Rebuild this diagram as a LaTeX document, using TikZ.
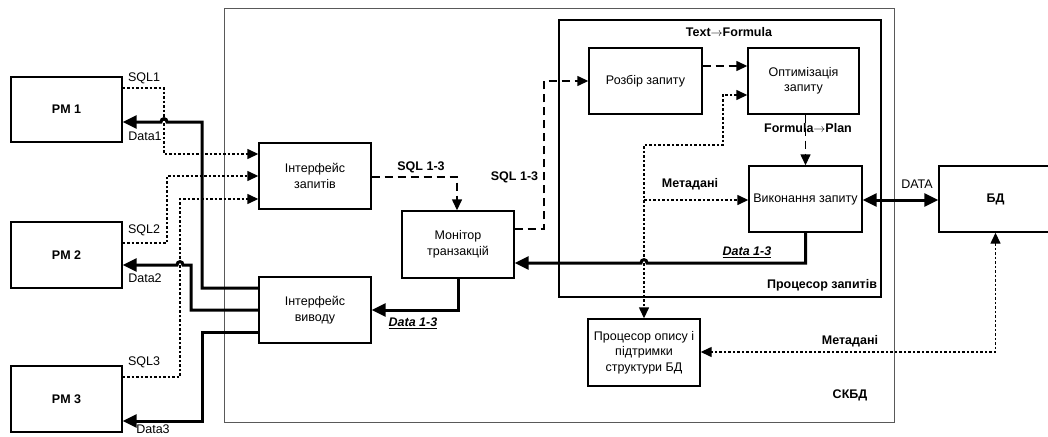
\documentclass[tikz,border=0pt]{standalone}
\usepackage{fontspec}
\setmainfont{Liberation Sans}
\usetikzlibrary{arrows.meta}
\newcommand{\longto}{\ensuremath{\rightarrow}}
\begin{document}
\begin{tikzpicture}[x=1pt,y=-1pt,
  txt/.style={font=\fontsize{12.5}{15.5}\selectfont, align=center, inner sep=0pt},
  btxt/.style={font=\fontsize{12.5}{15.5}\selectfont\bfseries, align=center, inner sep=0pt},
  box/.style={draw, line width=1.4pt, txt, minimum width=#1},
  box/.default=112pt,
  dotl/.style={line width=1.4pt, dash pattern=on 2.5pt off 2pt},
  dashl/.style={line width=1.4pt, dash pattern=on 8pt off 5pt},
  thickl/.style={line width=3pt},
  sm/.tip={Triangle[length=11pt,width=10pt]},
  bg/.tip={Triangle[length=14pt,width=13pt]}]

\useasboundingbox (0,0) rectangle (1048,436);

% frames
\node[draw=black!65, line width=0.9pt, minimum width=670pt, minimum height=414pt, inner sep=0pt] (skbd) at (559,215) {};
\node[draw, line width=1.4pt, minimum width=322pt, minimum height=277pt, inner sep=0pt] (pq) at (720,158.5) {};

% workstations
\node[box=111pt, btxt, minimum height=65pt] (pm1) at (66.5,109.5) {PM 1};
\node[box=111pt, btxt, minimum height=66pt] (pm2) at (66.5,255) {PM 2};
\node[box=111pt, btxt, minimum height=66pt] (pm3) at (66.5,399) {PM 3};

% DBMS components
\node[box, minimum height=66pt] (iz) at (315,176) {Інтерфейс\\запитів};
\node[box, minimum height=66pt] (iv) at (315,310) {Інтерфейс\\виводу};
\node[box, minimum height=67pt] (mt) at (458,244.5) {Монітор\\транзакцій};
\node[box=113pt, minimum height=66pt] (rz) at (645.5,81) {Розбір запиту};
\node[box=111pt, minimum height=66pt] (op) at (803.5,81) {Оптимізація\\запиту};
\node[box=113pt, minimum height=66pt] (vz) at (805.5,199) {Виконання запиту};
\node[box, minimum height=67pt] (po) at (644,352.5) {Процесор опису і\\підтримки\\структури БД};
\node[box=113pt, btxt, minimum height=66pt] (bd) at (995.5,199) {БД};

% requests from workstations
\draw[dotl,-sm] (pm1.east|-0,88) -- (164,88) -- (164,154) -- (iz.west|-0,154);
\draw[dotl,-sm] (pm2.east|-0,243) -- (167,243) -- (167,176) -- (iz.west|-0,176);
\draw[dotl,-sm] (pm3.east|-0,377) -- (180,377) -- (180,199) -- (iz.west|-0,199);

% results to workstations
\draw[thickl,-bg] (iv.west|-0,288) -- (202,288) -- (202,122) -- (167,122)
  .. controls (167,117.5) and (161,117.5) .. (161,122) -- (pm1.east|-0,122);
\draw[thickl,-bg] (iv.west|-0,310) -- (191,310) -- (191,265) -- (183,265)
  .. controls (183,260.5) and (177,260.5) .. (177,265) -- (pm2.east|-0,265);
\draw[thickl,-bg] (iv.west|-0,332) -- (202,332) -- (202,421) -- (pm3.east|-0,421);

% query path
\draw[dashl,-sm] (iz.east|-0,177) -- (457,177) -- (mt.north-|457,0);
\draw[dashl,-sm] (mt.east|-0,229) -- (544,229) -- (544,81) -- (rz.west);
\draw[dashl,-sm] (rz.east|-0,66) -- (op.west|-0,66);
\draw[dashl,-sm] (op.south-|805.5,0) -- (vz.north);

% data path
\draw[thickl,-bg] (vz.south) -- (805.5,263) -- (647,263)
  .. controls (647,258.5) and (641,258.5) .. (641,263) -- (mt.east|-0,263);
\draw[thickl,-bg] (mt.south) -- (458,310) -- (iv.east|-0,310);
\draw[thickl,bg-bg] (vz.east|-0,200) -- (bd.west|-0,200);

% metadata
\coordinate (mj) at (644,200);
\draw[dotl,sm-sm] (op.west|-0,95) -- (723,95) -- (723,145) -- (644,145) -- (po.north);
\draw[dotl,-sm] (mj) -- (vz.west|-0,200);
\draw[dotl,sm-sm] (bd.south) -- (bd.south|-0,352) -- (po.east|-0,352);

% labels
\node[txt] (l1) at (144,78) {SQL1};
\node[txt] (l2) at (145,136) {Data1};
\node[txt] (l3) at (144,230) {SQL2};
\node[txt] (l4) at (145,278) {Data2};
\node[txt] (l5) at (144,362) {SQL3};
\node[txt] (l6) at (153,429) {Data3};
\node[btxt] (l7) at (421,167) {SQL 1-3};
\node[btxt] (l8) at (514.5,177) {SQL 1-3};
\node[btxt] (l9) at (413,323) {\itshape\underline{Data 1-3}};
\node[btxt] (l10) at (747,252) {\itshape\underline{Data 1-3}};
\node[btxt] (l11) at (690,184) {Метадані};
\node[btxt] (l12) at (822,285) {Процесор запитів};
\node[btxt] (l13) at (729,32) {Text\longto Formula};
\node[btxt] (l14) at (808,128) {Formula\longto Plan};
\node[txt] (l15) at (917,184) {DATA};
\node[btxt] (l16) at (850,341) {Метадані};
\node[btxt] (l17) at (850,395) {СКБД};
\end{tikzpicture}
\end{document}
